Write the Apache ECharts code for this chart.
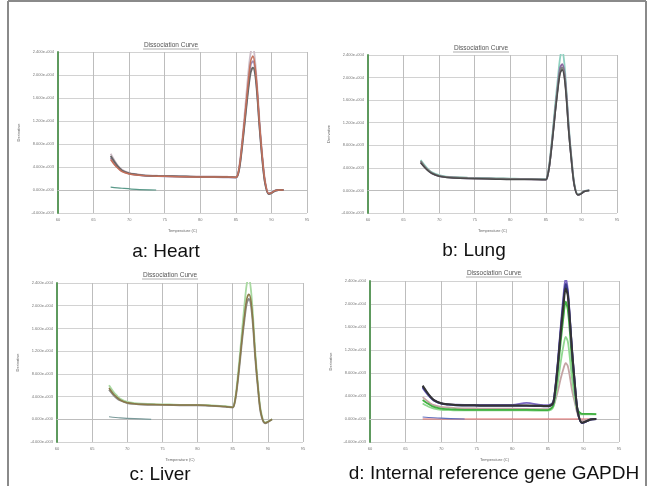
<!DOCTYPE html>
<html>
<head>
<meta charset="utf-8">
<script src="https://cdn.jsdelivr.net/npm/echarts@6/dist/echarts.min.js"></script>
<style>
  html, body { margin: 0; padding: 0; background: #fff; }
  #main { width: 656px; height: 486px; }
</style>
</head>
<body>
<div id="main"></div>
<script>
// x axis / y axis ticks
var xTicks = [60, 65, 70, 75, 80, 85, 90, 95];
var yTicks = [-4000, 0, 4000, 8000, 12000, 16000, 20000, 24000];
var captions = ['a: Heart', 'b: Lung', 'c: Liver', 'd: Internal reference gene GAPDH'];

// panel a: heart
var tA = [67.4, 68, 68.5, 69, 70, 71, 72, 74, 76, 78, 80, 82, 84, 85, 85.3, 85.6, 86, 86.4, 86.8, 87.1, 87.4, 87.7, 88, 88.3, 88.7, 89.1, 89.6, 90, 90.5, 91, 91.7];
var aRed = [5300, 4300, 3700, 3200, 2800, 2600, 2500, 2400, 2350, 2300, 2250, 2250, 2250, 2200, 2800, 5000, 9500, 14500, 19500, 22500, 23300, 21500, 17500, 12000, 6000, 1500, -600, -500, -100, 0, 0];
var aGray = [5900, 4800, 4000, 3400, 2900, 2700, 2550, 2450, 2400, 2350, 2300, 2300, 2250, 2200, 2700, 4600, 8800, 13500, 18000, 20500, 21300, 20200, 16500, 11300, 5500, 1200, -700, -550, -150, 0, 0];
var aLight = [6300, 5000, 4100, 3500, 3000, 2750, 2600, 2500, 2450, 2400, 2350, 2350, 2300, 2250, 2900, 5300, 10000, 15500, 21000, 24000, 25000, 22500, 18000, 12500, 6300, 1700, -500, -450, -100, 0, 0];
var aViolet = [5600, 4500, 3800, 3300, 2850, 2650, 2500, 2400, 2350, 2300, 2250, 2250, 2200, 2150, 2750, 4800, 9200, 14000, 18800, 21800, 22400, 21000, 17000, 11600, 5700, 1300, -650, -500, -120, 0, 0];
var tAShort = [67.4, 69, 71, 73.8];
var aShort = [500, 300, 100, 0];

// panel b: lung
var tB = [67.4, 68, 68.5, 69, 70, 71, 72, 74, 76, 78, 80, 82, 84, 85, 85.2, 85.5, 85.9, 86.3, 86.7, 87, 87.3, 87.6, 87.9, 88.2, 88.6, 89, 89.5, 89.9, 90.4, 91.1];
var bGray = [5200, 4200, 3600, 3100, 2600, 2400, 2300, 2200, 2150, 2100, 2050, 2000, 2000, 1950, 2400, 4500, 9000, 14000, 18500, 21000, 21800, 20500, 16500, 11000, 5500, 1000, -750, -600, -150, 0];
var bDark = [4900, 4000, 3400, 3000, 2500, 2300, 2200, 2100, 2050, 2000, 1950, 1950, 1900, 1900, 2300, 4300, 8600, 13500, 18000, 20700, 21400, 20000, 16000, 10600, 5200, 900, -800, -650, -200, 0];
var bTeal = [5400, 4400, 3700, 3200, 2700, 2450, 2350, 2250, 2200, 2150, 2100, 2050, 2050, 2000, 2500, 4800, 9600, 15000, 20000, 23500, 25000, 22500, 17500, 11800, 5800, 1200, -700, -550, -120, 0];
var bPurple = [5000, 4100, 3500, 3000, 2550, 2350, 2250, 2150, 2100, 2050, 2000, 2000, 1950, 1900, 2350, 4400, 8900, 14000, 18800, 21700, 22400, 21000, 16800, 11200, 5400, 950, -780, -620, -160, 0];

// panel c: liver
var tC = [67.4, 68, 68.5, 69, 70, 71, 72, 74, 76, 78, 80, 82, 84, 85, 85.2, 85.5, 85.9, 86.3, 86.7, 87, 87.3, 87.6, 87.9, 88.2, 88.6, 89, 89.6, 90, 90.6];
var cOlive = [5500, 4500, 3900, 3400, 2900, 2750, 2650, 2600, 2550, 2500, 2500, 2400, 2250, 2100, 2500, 4600, 9000, 14000, 18500, 21200, 22000, 20800, 16800, 11300, 5600, 1200, -650, -450, 0];
var cGreen = [6000, 4900, 4200, 3600, 3050, 2850, 2750, 2650, 2600, 2550, 2550, 2450, 2300, 2150, 2600, 5000, 9800, 15200, 20500, 23800, 25000, 22700, 18000, 12000, 6000, 1500, -550, -400, 0];
var cGray = [5200, 4300, 3700, 3300, 2850, 2700, 2600, 2550, 2500, 2450, 2450, 2350, 2200, 2050, 2450, 4400, 8600, 13500, 17800, 20400, 21200, 20000, 16200, 10800, 5300, 1000, -700, -500, 0];
var tCShort = [67.4, 69, 71, 73.4];
var cShort = [450, 250, 100, 0];

// panel d: GAPDH
var tD = [67.4, 68, 68.5, 69, 70, 71, 72, 74, 76, 78, 80, 82, 84, 85, 85.7, 86, 86.4, 86.8, 87.2, 87.5, 87.8, 88.1, 88.4, 88.8, 89.2, 89.8, 90.3, 91, 91.8];
var dPurple = [5400, 4400, 3700, 3200, 2700, 2550, 2500, 2450, 2450, 2450, 2450, 2800, 2450, 2400, 2900, 5000, 10000, 16000, 21500, 24500, 22500, 17500, 12000, 6000, 1200, -700, -500, -100, 0];
var dBlack = [5800, 4700, 3900, 3300, 2750, 2550, 2450, 2400, 2350, 2350, 2350, 2350, 2300, 2250, 2700, 4700, 9300, 14800, 19800, 22700, 21500, 17000, 11800, 6000, 1300, -650, -450, -100, 0];
var dNavy = [5600, 4600, 3800, 3250, 2700, 2500, 2400, 2350, 2300, 2300, 2300, 2300, 2250, 2200, 2650, 4800, 9600, 15300, 20500, 23500, 22000, 17300, 12000, 6000, 1300, -700, -480, -100, 0];
var dGreen = [3300, 2800, 2400, 2100, 1800, 1700, 1650, 1600, 1600, 1600, 1600, 1600, 1550, 1550, 2200, 4100, 8300, 13300, 17800, 20400, 19000, 15000, 10000, 5000, 1600, 900, 900, 900, 850];
var dLightGreen = [2700, 2300, 2000, 1800, 1600, 1550, 1500, 1500, 1500, 1500, 1500, 1500, 1450, 1450, 1900, 3300, 6300, 9800, 12800, 14300, 13500, 10500, 7000, 3600, 1200, 800, 800, 800, 800];
var dPale = [3800, 3200, 2700, 2400, 2100, 2000, 1900, 1850, 1800, 1800, 1800, 1750, 1700, 1700, 2100, 3000, 4800, 7000, 8800, 9700, 9200, 7300, 5000, 2800, 800, -300, -200, 0, 0];
var tDFlat = [67.4, 91.8];
var dFlat = [0, 0];
var tDShort = [67.4, 70, 73.3];
var dShort = [350, 150, 0];

var chart = echarts.init(document.getElementById('main'));

function sci(v) {
    var p = v.toExponential(3).split('e');
    var e = parseInt(p[1], 10);
    var n = String(Math.abs(e));
    while (n.length < 3) n = '0' + n;
    return p[0] + 'e' + (e < 0 ? '-' : '+') + n;
}

function pairs(xs, ys) {
    var out = [];
    for (var i = 0; i < xs.length; i++) out.push([xs[i], ys[i]]);
    return out;
}

function curve(idx, xs, ys, color, w) {
    return {
        type: 'line', xAxisIndex: idx, yAxisIndex: idx,
        data: pairs(xs, ys), showSymbol: false, symbol: 'none',
        smooth: 0.3, lineStyle: { color: color, width: w || 1.8 },
        silent: true
    };
}

var grids = [
    { left: 58, top: 52, width: 249, height: 161 },
    { left: 368, top: 55, width: 249, height: 158 },
    { left: 57, top: 283, width: 246, height: 159 },
    { left: 370, top: 281, width: 249, height: 161 }
];
var titlePos = [[171, 45], [481, 48], [170, 275], [494, 273]];
var capPos = [[166, 252], [474, 251], [160, 475], [494, 474]];

var xAxes = [], yAxes = [], graphics = [];
for (var i = 0; i < 4; i++) {
    xAxes.push({
        type: 'value', gridIndex: i, min: xTicks[0], max: xTicks[xTicks.length - 1], interval: 5,
        name: 'Temperature (C)', nameLocation: 'middle', nameGap: 16,
        nameTextStyle: { fontSize: 4, color: '#666' },
        axisLine: { lineStyle: { color: '#bdbdbd' } },
        axisTick: { show: false },
        axisLabel: { fontSize: 4, color: '#777', margin: 5 },
        splitLine: { lineStyle: { color: '#bdbdbd' } }
    });
    yAxes.push({
        type: 'value', gridIndex: i, min: yTicks[0], max: yTicks[yTicks.length - 1], interval: 4000,
        name: 'Derivative', nameLocation: 'middle', nameGap: 37,
        nameTextStyle: { fontSize: 4, color: '#666' },
        axisLine: { show: true, lineStyle: { color: '#5e9a5e', width: 2 } },
        axisTick: { show: false },
        axisLabel: { fontSize: 4, color: '#777', margin: 4, formatter: sci },
        splitLine: { lineStyle: { color: '#d2d2d2' } }
    });
    graphics.push({
        type: 'text', x: titlePos[i][0], y: titlePos[i][1], silent: true,
        style: { text: 'Dissociation Curve', fontSize: 6.5, fill: '#555', align: 'center', verticalAlign: 'middle', fontFamily: 'Liberation Sans' }
    });
    graphics.push({
        type: 'line', silent: true,
        shape: { x1: titlePos[i][0] - 28, y1: titlePos[i][1] + 4, x2: titlePos[i][0] + 28, y2: titlePos[i][1] + 4 },
        style: { stroke: '#777', lineWidth: 0.6 }
    });
    graphics.push({
        type: 'text', x: capPos[i][0], y: capPos[i][1], silent: true,
        style: { text: captions[i], fontSize: 19, fill: '#111', align: 'center', verticalAlign: 'middle', fontFamily: 'Liberation Sans' }
    });
}

// outer frame
graphics.push({ type: 'line', silent: true, shape: { x1: 8, y1: 1, x2: 8, y2: 486 }, style: { stroke: '#8a8a8a', lineWidth: 2 } });
graphics.push({ type: 'line', silent: true, shape: { x1: 8, y1: 1, x2: 646, y2: 1 }, style: { stroke: '#8a8a8a', lineWidth: 2 } });
graphics.push({ type: 'line', silent: true, shape: { x1: 646, y1: 1, x2: 646, y2: 486 }, style: { stroke: '#8a8a8a', lineWidth: 2 } });

var series = [
    curve(0, tA, aLight, '#cdbcc6'),
    curve(0, tA, aViolet, '#9d8bb4'),
    curve(0, tA, aGray, '#666666'),
    curve(0, tA, aRed, '#c4705a', 1.5),
    curve(0, tAShort, aShort, '#5a9a8a', 1.2),

    curve(1, tB, bTeal, '#8fd0c0'),
    curve(1, tB, bPurple, '#8a6aa0'),
    curve(1, tB, bGray, '#808080'),
    curve(1, tB, bDark, '#4a4a4a', 1.5),

    curve(2, tC, cGreen, '#a8d8a0'),
    curve(2, tC, cGray, '#8a8a8a'),
    curve(2, tC, cOlive, '#8a7a48', 1.5),
    curve(2, tCShort, cShort, '#7a9a9a', 1.2),

    curve(3, tDFlat, dFlat, '#e06a6a', 1.2),
    curve(3, tDShort, dShort, '#6070c0', 1.2),
    curve(3, tD, dPale, '#c4a4a4'),
    curve(3, tD, dLightGreen, '#90d890'),
    curve(3, tD, dGreen, '#40b040'),
    curve(3, tD, dPurple, '#7a66c0'),
    curve(3, tD, dNavy, '#3a3a88', 2),
    curve(3, tD, dBlack, '#333333', 2)
];

var option = {
    animation: false,
    backgroundColor: '#fff',
    textStyle: { fontFamily: 'Liberation Sans' },
    grid: grids,
    xAxis: xAxes,
    yAxis: yAxes,
    graphic: graphics,
    series: series
};
chart.setOption(option);
</script>
</body>
</html>
